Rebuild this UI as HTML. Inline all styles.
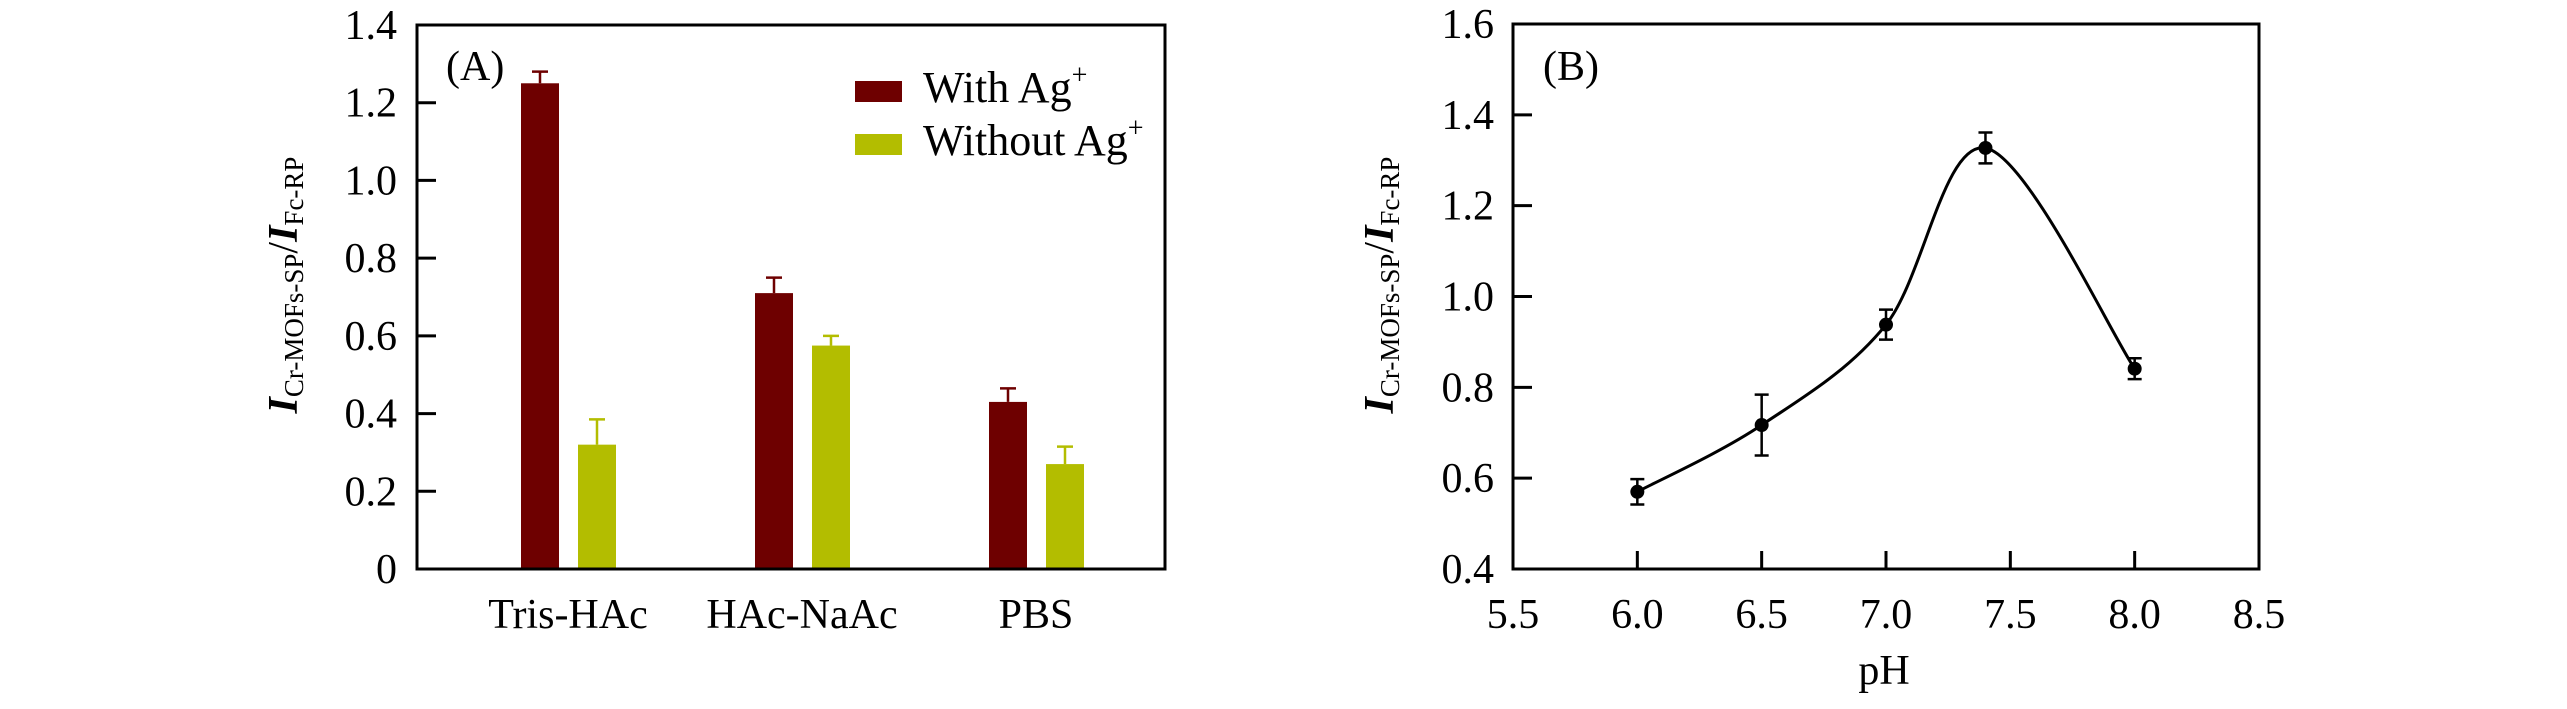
<!DOCTYPE html>
<html><head><meta charset="utf-8"><style>
html,body{margin:0;padding:0;background:#fff;}
svg{display:block;font-family:"Liberation Serif",serif;}
</style></head><body>
<svg id="fig" width="2567" height="709" viewBox="0 0 2567 709" xmlns="http://www.w3.org/2000/svg">
<g id="pa"></g>
<g id="pb"></g>
</svg>
<script>
// Panel A data
const catsA = ["Tris-HAc", "HAc-NaAc", "PBS"];
const withAg = [1.25, 0.71, 0.43];
const withAgErr = [0.03, 0.04, 0.035];
const withoutAg = [0.32, 0.575, 0.27];
const withoutAgErr = [0.065, 0.025, 0.045];
const yTicksA = [0, 0.2, 0.4, 0.6, 0.8, 1.0, 1.2, 1.4];
const yTickLabelsA = ["0", "0.2", "0.4", "0.6", "0.8", "1.0", "1.2", "1.4"];
// Panel B data
const phX = [6.0, 6.5, 7.0, 7.4, 8.0];
const phY = [0.57, 0.717, 0.938, 1.327, 0.841];
const phErr = [0.028, 0.067, 0.033, 0.034, 0.023];
const xTicksB = [5.5, 6.0, 6.5, 7.0, 7.5, 8.0, 8.5];
const xTickLabelsB = ["5.5", "6.0", "6.5", "7.0", "7.5", "8.0", "8.5"];
const yTicksB = [0.4, 0.6, 0.8, 1.0, 1.2, 1.4, 1.6];
const yTickLabelsB = ["0.4", "0.6", "0.8", "1.0", "1.2", "1.4", "1.6"];

const NS = "http://www.w3.org/2000/svg";
function mk(parent, tag, attrs, text) {
  const e = document.createElementNS(NS, tag);
  for (const k in attrs) e.setAttribute(k, attrs[k]);
  if (text !== undefined) e.textContent = text;
  parent.appendChild(e);
  return e;
}
const MAROON = "#6e0000", OLIVE = "#b3bd00";

// ---------- Panel A ----------
const pa = document.getElementById("pa");
const A = {l: 417, r: 1165, t: 25, b: 569};
const yA = v => A.b - (v - 0) / 1.4 * (A.b - A.t);
const xA = i => 568 + 234 * i;
const bw = 38;

let e;
catsA.forEach((c, i) => {
  const gc = xA(i);
  e = mk(pa, "rect", {x: gc - 47, y: yA(withAg[i]), width: bw, height: yA(0) - yA(withAg[i]), fill: MAROON});
  
  
  let cx = gc - 47 + bw / 2, ty = yA(withAg[i] + withAgErr[i]);
  e = mk(pa, "path", {d: `M${cx},${yA(withAg[i])}V${ty}M${cx-8},${ty}H${cx+8}`, stroke: MAROON, "stroke-width": 2.5, fill: "none"});
  
  
  e = mk(pa, "rect", {x: gc + 10, y: yA(withoutAg[i]), width: bw, height: yA(0) - yA(withoutAg[i]), fill: OLIVE});
  
  
  cx = gc + 10 + bw / 2; ty = yA(withoutAg[i] + withoutAgErr[i]);
  e = mk(pa, "path", {d: `M${cx},${yA(withoutAg[i])}V${ty}M${cx-8},${ty}H${cx+8}`, stroke: OLIVE, "stroke-width": 2.5, fill: "none"});
  
  
  e = mk(pa, "text", {x: gc, y: 628, "font-size": 42, "text-anchor": "middle"}, c);
  
  
});
yTicksA.forEach((v, i) => {
  const y = yA(v);
  if (i > 0 && i < yTicksA.length - 1) {
    e = mk(pa, "line", {x1: A.l, x2: A.l + 19, y1: y, y2: y, stroke: "#000", "stroke-width": 3});
    
    
  }
  e = mk(pa, "text", {x: 397, y: y + 14, "font-size": 42, "text-anchor": "end"}, yTickLabelsA[i]);
  
  
});
e = mk(pa, "rect", {x: A.l, y: A.t, width: A.r - A.l, height: A.b - A.t, fill: "none", stroke: "#000", "stroke-width": 3});


e = mk(pa, "text", {x: 446, y: 80, "font-size": 42}, "(A)");


e = mk(pa, "rect", {x: 855, y: 81, width: 47, height: 21, fill: MAROON});


e = mk(pa, "rect", {x: 855, y: 134, width: 47, height: 21, fill: OLIVE});


e = mk(pa, "text", {x: 923, y: 102, "font-size": 44}, "With Ag");


mk(e, "tspan", {"font-size": 28, dy: -18}, "+");
e = mk(pa, "text", {x: 923, y: 155, "font-size": 44}, "Without Ag");


mk(e, "tspan", {"font-size": 28, dy: -18}, "+");

function yLabel(parent, cx, cy, name) {
  const t = mk(parent, "text", {x: cx, y: cy, "text-anchor": "middle", transform: `rotate(-90 ${cx} ${cy})`});
  
  
  mk(t, "tspan", {"font-size": 42, "font-weight": "bold", "font-style": "italic"}, "I");
  mk(t, "tspan", {"font-size": 27, dy: 6}, "Cr-MOFs-SP");
  mk(t, "tspan", {"font-size": 42, dy: -6}, "/");
  mk(t, "tspan", {"font-size": 42, "font-weight": "bold", "font-style": "italic"}, "I");
  mk(t, "tspan", {"font-size": 27, dy: 6}, "Fc-RP");
}
yLabel(pa, 297, 285, "y-axis-title-a");

// ---------- Panel B ----------
const pb = document.getElementById("pb");
const B = {l: 1513, r: 2259, t: 24, b: 569};
const xB = v => B.l + (v - 5.5) / 3 * (B.r - B.l);
const yB = v => B.b - (v - 0.4) / 1.2 * (B.b - B.t);

xTicksB.forEach((v, i) => {
  const x = xB(v);
  if (i > 0 && i < xTicksB.length - 1) {
    e = mk(pb, "line", {x1: x, x2: x, y1: B.b, y2: B.b - 18, stroke: "#000", "stroke-width": 3});
    
    
  }
  e = mk(pb, "text", {x: x, y: 628, "font-size": 42, "text-anchor": "middle"}, xTickLabelsB[i]);
  
  
});
yTicksB.forEach((v, i) => {
  const y = yB(v);
  if (i > 0 && i < yTicksB.length - 1) {
    e = mk(pb, "line", {x1: B.l, x2: B.l + 19, y1: y, y2: y, stroke: "#000", "stroke-width": 3});
    
    
  }
  e = mk(pb, "text", {x: 1494, y: y + 14, "font-size": 42, "text-anchor": "end"}, yTickLabelsB[i]);
  
  
});
const P = phX.map((x, i) => [xB(x), yB(phY[i])]);
let d = `M${P[0][0]},${P[0][1]}`;
for (let i = 0; i < P.length - 1; i++) {
  const p0 = P[Math.max(0, i - 1)], p1 = P[i], p2 = P[i + 1], p3 = P[Math.min(P.length - 1, i + 2)];
  const c1 = [p1[0] + (p2[0] - p0[0]) / 6, p1[1] + (p2[1] - p0[1]) / 6];
  const c2 = [p2[0] - (p3[0] - p1[0]) / 6, p2[1] - (p3[1] - p1[1]) / 6];
  d += ` C${c1[0]},${c1[1]} ${c2[0]},${c2[1]} ${p2[0]},${p2[1]}`;
}
e = mk(pb, "path", {d: d, fill: "none", stroke: "#000", "stroke-width": 3});


phX.forEach((x, i) => {
  const cx = xB(x), cy = yB(phY[i]), t = yB(phY[i] + phErr[i]), b = yB(phY[i] - phErr[i]);
  e = mk(pb, "path", {d: `M${cx},${t}V${b}M${cx-7},${t}H${cx+7}M${cx-7},${b}H${cx+7}`, stroke: "#000", "stroke-width": 2.5, fill: "none"});
  
  
  e = mk(pb, "circle", {cx: cx, cy: cy, r: 7, fill: "#000"});
  
  
});
e = mk(pb, "rect", {x: B.l, y: B.t, width: B.r - B.l, height: B.b - B.t, fill: "none", stroke: "#000", "stroke-width": 3});


e = mk(pb, "text", {x: 1543, y: 80, "font-size": 42}, "(B)");


e = mk(pb, "text", {x: 1884, y: 684, "font-size": 42, "text-anchor": "middle"}, "pH");


yLabel(pb, 1393, 285, "y-axis-title-b");
</script>
</body></html>
